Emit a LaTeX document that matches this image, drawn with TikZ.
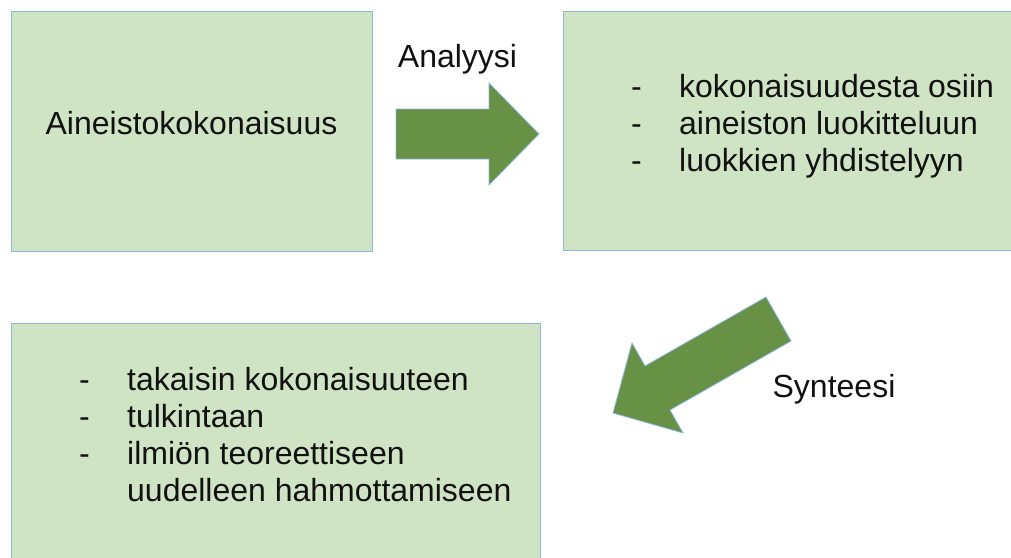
\documentclass[tikz,border=0pt]{standalone}
\usepackage{fontspec}
\setmainfont{Liberation Sans}
\usepackage{xcolor}
\usepackage{tikz}
\definecolor{boxfill}{HTML}{CFE4C4}
\definecolor{boxline}{HTML}{8DB6E0}
\definecolor{arrowfill}{HTML}{679145}
\definecolor{ink}{HTML}{111111}
\tikzset{
  greenbox/.style={draw=boxline, fill=boxfill, line width=0.9pt, inner sep=0pt, outer sep=0pt, anchor=north west},
  blockArrow/.style={draw=boxline, fill=arrowfill, line width=0.8pt, line join=miter},
  bigLbl/.style={text=ink, font=\fontsize{32}{37.5}\selectfont, inner sep=0pt, anchor=base},
  itemLbl/.style={text=ink, font=\fontsize{32}{37.5}\selectfont, inner sep=0pt, anchor=base west},
}
\newcommand{\dashitem}{\makebox[48pt][l]{-}}
\newcommand{\noitem}{\makebox[48pt][l]{}}

\begin{document}
\begin{tikzpicture}[x=1pt, y=-1pt]
  \useasboundingbox (0,0) rectangle (1011,557);
  \clip (0,0) rectangle (1011,557);

  % Boxes
  \node[greenbox, minimum width=361pt, minimum height=240pt] (whole) at (11,11) {};
  \node[greenbox, minimum width=470pt, minimum height=239pt] (parts) at (563,11) {};
  \node[greenbox, minimum width=529pt, minimum height=260pt] (back)  at (11,323) {};

  \node[bigLbl] (wholetxt) at (191.5,134) {Aineistokokonaisuus};

  % Analysis items
  \node[itemLbl] (ana1) at (631,97)    {\dashitem kokonaisuudesta osiin};
  \node[itemLbl] (ana2) at (631,134.3) {\dashitem aineiston luokitteluun};
  \node[itemLbl] (ana3) at (631,171.6) {\dashitem luokkien yhdistelyyn};

  % Synthesis items
  \node[itemLbl] (syn1) at (79,390)    {\dashitem takaisin kokonaisuuteen};
  \node[itemLbl] (syn2) at (79,427.5)  {\dashitem tulkintaan};
  \node[itemLbl] (syn3) at (79,464.5)  {\dashitem ilmiön teoreettiseen};
  \node[itemLbl] (syn4) at (79,501.8)  {\noitem uudelleen hahmottamiseen};

  % Block arrows
  \draw[blockArrow] (396,109) -- (489,109) -- (489,83) -- (539,134)
    -- (489,185) -- (489,159) -- (396,159) -- cycle;
  \node[bigLbl] (analtxt) at (457.5,67) {Analyysi};

  \draw[blockArrow] (766,297) -- (791,341) -- (670,410) -- (683,433)
    -- (613,413) -- (632,343) -- (645,366) -- cycle;
  \node[bigLbl] (syntxt) at (834,397) {Synteesi};
\end{tikzpicture}
\end{document}
